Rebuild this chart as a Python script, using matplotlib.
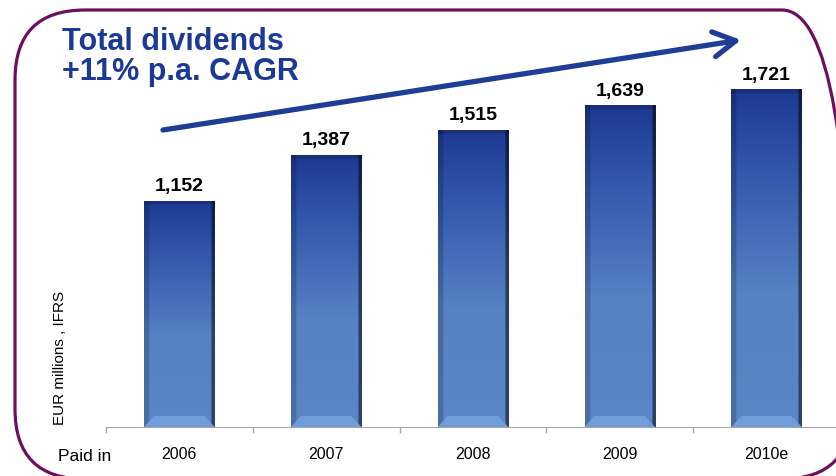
import numpy as np
import matplotlib.pyplot as plt
from matplotlib.patches import FancyBboxPatch, Polygon
from matplotlib.colors import to_rgb

years = ['2006', '2007', '2008', '2009', '2010e']
dividends = [1152, 1387, 1515, 1639, 1721]
value_labels = ['1,152', '1,387', '1,515', '1,639', '1,721']

W, H = 837, 477
fig = plt.figure(figsize=(W / 100, H / 100), dpi=100)
narrow = ['Liberation Sans Narrow', 'Liberation Sans', 'DejaVu Sans']
wide = ['Liberation Sans', 'DejaVu Sans']

# main bar axes (in pixels: x 106..840, baseline at y=428)
ax = fig.add_axes([106 / W, 49 / H, 734 / W, 428 / H])
x = np.arange(len(years))
ymax = 2180
bars = ax.bar(x, dividends, width=0.48, color='none', zorder=2)
ax.set_xlim(-0.5, len(years) - 0.5)
ax.set_ylim(0, ymax)

# gradient fill for each bar
stops = [0.0, 0.4, 0.78, 1.0]
cols = np.array([to_rgb(c) for c in ['#5b86c7', '#5681c3', '#3055aa', '#1d3891']])
px_per_unit = 428 / ymax
for b in bars:
    x0, w, h = b.get_x(), b.get_width(), b.get_height()
    ny, nx = 300, 80
    t = np.linspace(0, 1, ny)
    base = np.stack([np.interp(t, stops, cols[:, i]) for i in range(3)], axis=1)
    u = np.linspace(0, 1, nx)
    fx = np.ones(nx)
    fx[u < 0.07] = 0.82
    fx[u > 0.96] = 0.5
    img = base[:, None, :] * fx[None, :, None]
    top_px = 4 / (h * px_per_unit)
    img[t > 1 - top_px] *= 0.85
    im = ax.imshow(img, extent=(x0, x0 + w, 0, h), origin='lower', aspect='auto',
                   zorder=2, interpolation='bilinear')
    im.set_clip_path(b)
    # lighter bottom bevel
    hb = 11 / px_per_unit
    dx = w * 0.14
    ax.add_patch(Polygon([(x0, 0), (x0 + w, 0), (x0 + w - dx, hb), (x0 + dx, hb)],
                         closed=True, fc='#709cda', ec='none', zorder=3))

for xi, v, lbl in zip(x, dividends, value_labels):
    ax.annotate(lbl, (xi, v), xytext=(0, 7.5), textcoords='offset points',
                ha='center', va='baseline', fontsize=14, fontweight='bold',
                family=wide, color='black')

ax.set_xticks(x, years)
ax.set_xticks(np.arange(-0.5, len(years)), minor=True)
ax.tick_params(axis='x', which='major', length=0, pad=14, labelsize=11.5)
ax.tick_params(axis='x', which='minor', length=4, width=1, color='#a6a6a6')
for lab in ax.get_xticklabels():
    lab.set_family(narrow)
ax.set_yticks([])
for s in ['left', 'top', 'right']:
    ax.spines[s].set_visible(False)
ax.spines['bottom'].set_color('#a6a6a6')
ax.patch.set_visible(False)

# overlay in pixel coordinates (y measured from bottom) for frame, arrow and text
ov = fig.add_axes([0, 0, 1, 1])
ov.set_xlim(0, W)
ov.set_ylim(0, H)
ov.axis('off')


def py(y):
    return H - y


ov.add_patch(FancyBboxPatch((15, py(480)), 837, 469, boxstyle='round,pad=0,rounding_size=70',
                            fill=False, ec='#6d0f5e', lw=2.3, clip_on=False))

ov.annotate('', xy=(741, py(41)), xytext=(163, py(131)),
            arrowprops=dict(arrowstyle='->,head_length=0.8,head_width=0.45',
                            color='#1f3d96', lw=3.8, mutation_scale=20,
                            shrinkA=0, shrinkB=0))

ov.text(62, py(27), 'Total dividends\n+11% p.a. CAGR', va='top', ha='left',
        fontsize=22, fontweight='bold', color='#1b3a95', family=wide, linespacing=1.0)

ov.text(58, py(461), 'Paid in', ha='left', va='baseline', fontsize=12.5, family=narrow)
ov.text(60, py(358), 'EUR millions , IFRS', rotation=90, ha='center', va='center',
        fontsize=11, family=narrow)

fig.savefig('out.png', dpi=100)
